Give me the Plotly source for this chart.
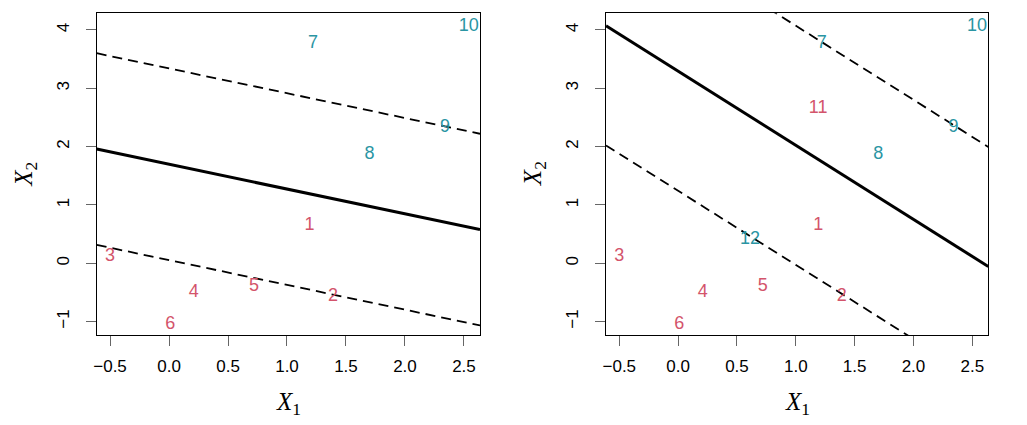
import plotly.graph_objects as go

# ---- data ----
x1_base = [1.19, 1.39, -0.50, 0.21, 0.72, 0.01, 1.22, 1.70, 2.34, 2.54]
x2_base = [0.64, -0.57, 0.12, -0.50, -0.39, -1.05, 3.77, 1.87, 2.33, 4.06]
cls_base = [0, 0, 0, 0, 0, 0, 1, 1, 1, 1]
labels_base = ["1", "2", "3", "4", "5", "6", "7", "8", "9", "10"]

x1_extra = [1.19, 0.61]
x2_extra = [2.66, 0.40]
cls_extra = [0, 1]
labels_extra = ["11", "12"]

# hyperplane: x2 = intercept + slope * x1 ; margins at intercept +/- margin
left_line = dict(intercept=1.698, slope=-0.425, margin=1.643)
right_line = dict(intercept=3.293, slope=-1.27, margin=2.05)

x_ticks = [-0.5, 0.0, 0.5, 1.0, 1.5, 2.0, 2.5]
x_ticktext = ["\u22120.5", "0.0", "0.5", "1.0", "1.5", "2.0", "2.5"]
y_ticks = [-1, 0, 1, 2, 3, 4]
y_ticktext = ["\u22121", "0", "1", "2", "3", "4"]

x_range = [-0.613, 2.636]
y_range = [-1.229, 4.286]

colors = {0: "#D3546B", 1: "#2A95A3"}

# page body has an 8px margin; build figure in reference pixels shifted by it
OFF = 8
W, H = 1027 - OFF, 425 - OFF

fig = go.Figure()

def add_panel(xs, ys, cls, labs, line, xa, ya):
    xs_line = [x_range[0], x_range[1]]
    for off, dash, w in [(0, "solid", 3), (line["margin"], "dash", 1.8), (-line["margin"], "dash", 1.8)]:
        fig.add_trace(go.Scatter(
            x=xs_line,
            y=[line["intercept"] + off + line["slope"] * v for v in xs_line],
            mode="lines", line=dict(color="black", width=w, dash="10px,6px" if dash == "dash" else "solid"),
            xaxis=xa, yaxis=ya, showlegend=False, hoverinfo="skip"))
    fig.add_trace(go.Scatter(
        x=xs, y=ys, mode="text", text=labs,
        textfont=dict(family="Liberation Sans, Arial", size=18, color=[colors[c] for c in cls]),
        textposition="middle center", xaxis=xa, yaxis=ya, showlegend=False, cliponaxis=False))

add_panel(x1_base, x2_base, cls_base, labels_base, left_line, "x", "y")
add_panel(x1_base + x1_extra, x2_base + x2_extra, cls_base + cls_extra,
          labels_base + labels_extra, right_line, "x2", "y2")

ax_common = dict(showgrid=False, zeroline=False, showline=True, linecolor="black", linewidth=1.3,
                 mirror=True, ticks="outside", ticklen=10, tickwidth=1.3, tickcolor="#666666",
                 tickfont=dict(family="Liberation Sans, Arial", size=17, color="black"),
                 automargin=False)

def px_x(p):
    return (p - OFF) / W

def px_y(p):
    return 1 - (p - OFF) / H

ytop = px_y(13.3)
ybot = px_y(335)
dom_left = [px_x(96.7), px_x(480)]
dom_right = [px_x(606), px_x(988.3)]

fig.update_layout(
    width=W, height=H,
    margin=dict(l=0, r=0, t=0, b=0),
    paper_bgcolor="white", plot_bgcolor="white",
    xaxis=dict(ax_common, domain=dom_left, range=x_range, tickvals=x_ticks, ticktext=x_ticktext,
               anchor="y", ticklabelstandoff=5),
    yaxis=dict(ax_common, domain=[ybot, ytop], range=y_range, tickvals=y_ticks, ticktext=y_ticktext,
               tickangle=-90, anchor="x", ticklabelstandoff=10),
    xaxis2=dict(ax_common, domain=dom_right, range=x_range, tickvals=x_ticks, ticktext=x_ticktext,
                anchor="y2", ticklabelstandoff=5),
    yaxis2=dict(ax_common, domain=[ybot, ytop], range=y_range, tickvals=y_ticks, ticktext=y_ticktext,
                tickangle=-90, anchor="x2", ticklabelstandoff=10),
)

title_font = dict(family="Liberation Serif, Times New Roman, serif", size=25, color="black")
for dom, left_px in ((dom_left, 96.7), (dom_right, 606)):
    cx = (dom[0] + dom[1]) / 2
    fig.add_annotation(text="<i>X</i><sub>1</sub>", x=cx, y=px_y(403), xref="paper", yref="paper",
                       showarrow=False, font=title_font, xanchor="center", yanchor="middle")
    fig.add_annotation(text="<i>X</i><sub>2</sub>", x=px_x(left_px - 72), y=(ybot + ytop) / 2,
                       xref="paper", yref="paper", showarrow=False, font=title_font,
                       textangle=-90, xanchor="center", yanchor="middle")

fig.write_html("out.html")
